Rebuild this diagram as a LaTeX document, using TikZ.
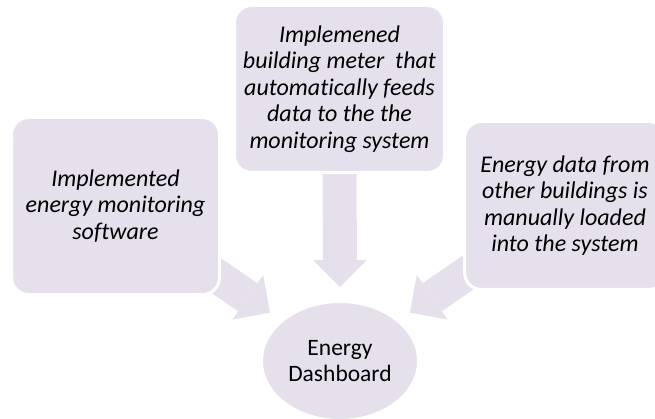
\documentclass[tikz,border=0pt]{standalone}
\usepackage{fontspec}
\setmainfont{Carlito}[Ligatures=NoCommon]
\usetikzlibrary{arrows.meta,backgrounds,shapes.geometric}
\definecolor{lavender}{HTML}{E5E0EC}
\tikzset{
  infobox/.style={draw=white, line width=3pt, fill=lavender, rounded corners=17pt,
    align=center, font=\fontsize{24}{26.4}\selectfont\itshape},
  goal/.style={ellipse, draw=white, line width=3pt, fill=lavender, inner sep=0pt,
    align=center, font=\fontsize{23.5}{26.4}\selectfont},
  flow/.style={draw=lavender, line width=34pt,
    -{Triangle[width=54pt,length=27pt,line width=0pt]}, shorten >=13pt}
}
\begin{document}
\begin{tikzpicture}[x=1pt,y=-1pt]
\useasboundingbox (0,0) rectangle (655,419);
\node[infobox, minimum width=208pt, minimum height=177pt] (soft) at (115.5,206) {Implemented\\energy monitoring\\software};
\node[infobox, minimum width=210pt, minimum height=167pt] (meter) at (339.5,89) {Implemened\\building meter~~that\\automatically feeds\\data to the the\\monitoring system};
\node[infobox, minimum width=201pt, minimum height=168pt] (other) at (565,205.5) {Energy data from\\other buildings is\\manually loaded\\into the system};
\node[goal, minimum width=157pt, minimum height=119pt] (dash) at (340,361) {Energy\\Dashboard};
\begin{scope}[on background layer]
\draw[flow] (soft.center) -- (dash);
\draw[flow] (meter.center) -- (dash);
\draw[flow] (other.center) -- (dash);
\end{scope}
\end{tikzpicture}
\end{document}
